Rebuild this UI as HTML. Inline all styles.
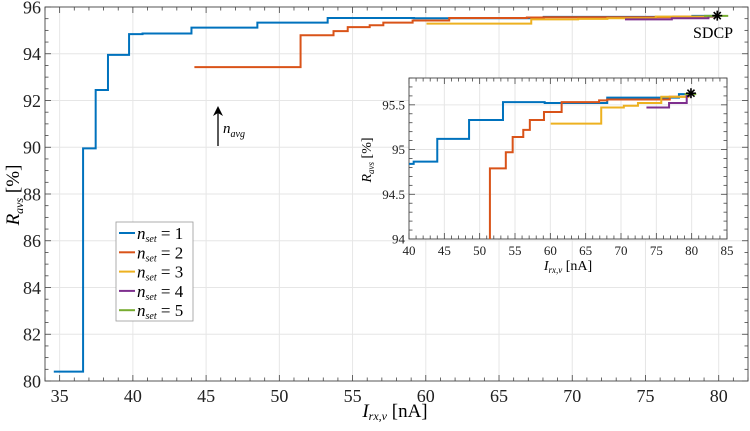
<!DOCTYPE html>
<html><head><meta charset="utf-8"><style>
html,body{margin:0;background:#fff;overflow:hidden;width:750px;height:431px;}
svg{display:block;font-family:"Liberation Serif",serif;}
</style></head><body>
<svg id="chart" width="750" height="431"></svg>
<script>
// ---- data ----
const blueX=[34.6,36.6,37.46,38.3,39.74,40.66,44.0,48.5,53.3,59.2,68.05,78.2];
const blueY=[80.4,89.95,92.45,93.95,94.84,94.865,95.12,95.33,95.53,95.52,95.58,95.62];
const blueEnd=79.8;
const orangeX=[44.2,51.45,53.7,54.67,56.17,57.1,59.1,61.6,66.9,68.05,76.9];
const orangeY=[93.43,94.79,94.97,95.14,95.22,95.33,95.42,95.53,95.55,95.56,95.59];
const orangeEnd=79.6;
const yellowX=[60.05,67.2,70.4,72.4,75.7];
const yellowY=[95.29,95.47,95.49,95.52,95.59];
const yellowEnd=79.7;
const purpleX=[73.6,76.8,79.3];
const purpleY=[95.47,95.52,95.6];
const purpleEnd=79.8;
const greenX=[79.0];
const greenY=[95.62];
const greenEnd=80.65;
const sdcpX=[79.9];
const sdcpY=[95.63];
const seriesLabels=["1","2","3","4","5"];
const mainXTicks=[35,40,45,50,55,60,65,70,75,80];
const mainYTicks=[80,82,84,86,88,90,92,94,96];
const insetXTicks=[40,45,50,55,60,65,70,75,80,85];
const insetYTicks=[94,94.5,95,95.5];
const insetYLabels=["94","94.5","95","95.5"];

const NS="http://www.w3.org/2000/svg";
const svg=document.getElementById('chart');
function mk(tag,attrs,parent){const e=document.createElementNS(NS,tag);for(const k in attrs)e.setAttribute(k,attrs[k]);(parent||svg).appendChild(e);return e;}
const colors=["#0072BD","#D95319","#EDB120","#7E2F8E","#77AC30"];
const series=[[blueX,blueY,blueEnd],[orangeX,orangeY,orangeEnd],[yellowX,yellowY,yellowEnd],[purpleX,purpleY,purpleEnd],[greenX,greenY,greenEnd]];
const names=["blue","orange","yellow","purple","green"];

function axes(cfg){
  const {L,R,T,B,x0,x1,y0,y1}=cfg;
  const sx=v=>L+(v-x0)/(x1-x0)*(R-L);
  const sy=v=>B-(v-y0)/(y1-y0)*(B-T);
  return {sx,sy};
}
function drawAxes(cfg,xt,yt,ylab,xminor,yminor,fs,pre){
  const {L,R,T,B,x0,x1,y0,y1}=cfg;const {sx,sy}=axes(cfg);
  const g=mk('g',{});
  
  
  mk('rect',{x:L,y:T,width:R-L,height:B-T,fill:'#fff'},g);
  xt.forEach(v=>{const l=mk('line',{x1:sx(v),x2:sx(v),y1:T,y2:B,stroke:'#e6e6e6','stroke-width':1},g);
    });
  yt.forEach(v=>{const l=mk('line',{x1:L,x2:R,y1:sy(v),y2:sy(v),stroke:'#e6e6e6','stroke-width':1},g);
    });
  for(let v=Math.ceil(x0/xminor)*xminor;v<=x1+1e-9;v+=xminor){const big=xt.some(t=>Math.abs(t-v)<1e-6);const len=big?6:3.5;
    mk('line',{x1:sx(v),x2:sx(v),y1:B,y2:B-len,stroke:'#444','stroke-width':0.8},g);
    mk('line',{x1:sx(v),x2:sx(v),y1:T,y2:T+len,stroke:'#444','stroke-width':0.8},g);}
  for(let v=Math.ceil(y0/yminor-1e-9)*yminor;v<=y1+1e-9;v+=yminor){const big=yt.some(t=>Math.abs(t-v)<1e-6);const len=big?6:3.5;
    mk('line',{x1:L,x2:L+len,y1:sy(v),y2:sy(v),stroke:'#444','stroke-width':0.8},g);
    mk('line',{x1:R,x2:R-len,y1:sy(v),y2:sy(v),stroke:'#444','stroke-width':0.8},g);}
  mk('rect',{x:L,y:T,width:R-L,height:B-T,fill:'none',stroke:'#444','stroke-width':0.9},g);
  xt.forEach(v=>{const t=mk('text',{x:sx(v),y:B+fs+3,'font-size':fs,'text-anchor':'middle',fill:'#222'},g);t.textContent=v;
    });
  yt.forEach((v,i)=>{const t=mk('text',{x:L-4,y:sy(v)+fs*0.35,'font-size':fs,'text-anchor':'end',fill:'#222'},g);t.textContent=ylab?ylab[i]:v;
    });
  return {sx,sy};
}
function drawSeries(sx,sy,clipId,pre){
  series.forEach((s,k)=>{const [xs,ys,end]=s;let d='M'+sx(xs[0])+','+sy(ys[0]);
    for(let i=1;i<xs.length;i++){d+=' H'+sx(xs[i])+' V'+sy(ys[i]);}
    d+=' H'+sx(end);
    const p=mk('path',{d:d,fill:'none',stroke:colors[k],'stroke-width':2,'clip-path':'url(#'+clipId+')'});
    
    });
  const cx=sx(sdcpX[0]),cy=sy(sdcpY[0]),r=5;
  const st=mk('g',{stroke:'#000','stroke-width':1.6});
  
  
  for(let a=0;a<180;a+=45){const rad=a*Math.PI/180;
    mk('line',{x1:cx-r*Math.cos(rad),y1:cy-r*Math.sin(rad),x2:cx+r*Math.cos(rad),y2:cy+r*Math.sin(rad)},st);}
}
const defs=mk('defs',{});
// main
const M={L:45,R:748,T:7,B:381,x0:34,x1:82,y0:80,y1:96};
const cp1=mk('clipPath',{id:'c1'},defs);mk('rect',{x:M.L,y:M.T,width:M.R-M.L,height:M.B-M.T},cp1);
const ma=drawAxes(M,mainXTicks,mainYTicks,null,1,0.5,18,'main-');
drawSeries(ma.sx,ma.sy,'c1','main-');
let t=mk('text',{x:713,y:38,'font-size':16,'text-anchor':'middle'});t.textContent='SDCP';

// arrow
const ar=mk('g',{});
mk('line',{x1:218,x2:218,y1:146,y2:110,stroke:'#000','stroke-width':1.3},ar);
mk('path',{d:'M213,116 L218,106 L223,116 L218,113 Z',fill:'#000'},ar);
t=mk('text',{x:223,y:133,'font-size':15,'font-style':'italic'});t.innerHTML='n<tspan font-size="10" dy="4">avg</tspan>';

t=mk('text',{x:395,y:417,'font-size':19,'text-anchor':'middle'});t.innerHTML='<tspan font-style="italic">I</tspan><tspan font-size="12" font-style="italic" dy="3">rx,v</tspan><tspan dy="-3"> [nA]</tspan>';

t=mk('text',{x:0,y:0,'font-size':19,'text-anchor':'middle',transform:'translate(19,195) rotate(-90)'});t.innerHTML='<tspan font-style="italic">R</tspan><tspan font-size="12" font-style="italic" dy="4">avs</tspan><tspan dy="-4"> [%]</tspan>';

// legend
const lg=mk('g',{});
mk('rect',{x:116,y:222,width:77,height:99,fill:'#fff',stroke:'#999','stroke-width':0.8},lg);
seriesLabels.forEach((lab,i)=>{const y=233+i*19.3;
  const e=mk('g',{},lg);
  mk('line',{x1:119,x2:135,y1:y,y2:y,stroke:colors[i],'stroke-width':2},e);
  const tx=mk('text',{x:137,y:y+6,'font-size':17},e);tx.innerHTML='<tspan font-style="italic">n</tspan><tspan font-size="10" font-style="italic" dy="3">set</tspan><tspan dy="-3"> = '+lab+'</tspan>';});
// inset
const I={L:409,R:727,T:78,B:239,x0:40,x1:85,y0:94,y1:95.8};
const cp2=mk('clipPath',{id:'c2'},defs);mk('rect',{x:I.L,y:I.T,width:I.R-I.L,height:I.B-I.T},cp2);
const ia=drawAxes(I,insetXTicks,insetYTicks,insetYLabels,1,0.1,13,'inset-');
drawSeries(ia.sx,ia.sy,'c2','inset-');
t=mk('text',{x:568,y:270,'font-size':14,'text-anchor':'middle'});t.innerHTML='<tspan font-style="italic">I</tspan><tspan font-size="9" font-style="italic" dy="3">rx,v</tspan><tspan dy="-3"> [nA]</tspan>';

t=mk('text',{x:0,y:0,'font-size':14,'text-anchor':'middle',transform:'translate(371,160) rotate(-90)'});t.innerHTML='<tspan font-style="italic">R</tspan><tspan font-size="9" font-style="italic" dy="3">avs</tspan><tspan dy="-3"> [%]</tspan>';

</script>
</body></html>
